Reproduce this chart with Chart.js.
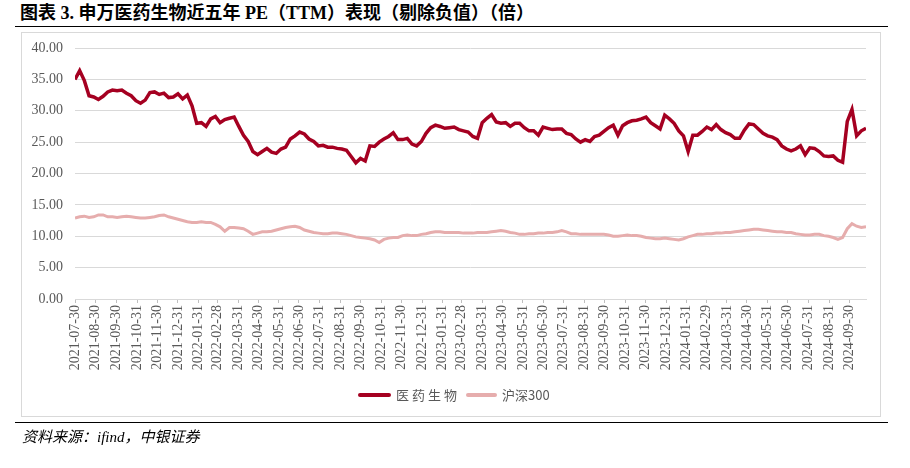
<!DOCTYPE html>
<html>
<head>
<meta charset="utf-8">
<script src="https://cdn.jsdelivr.net/npm/chart.js@4/dist/chart.umd.min.js"></script>
<style>
  html, body { margin: 0; padding: 0; background: #fff; }
  body { width: 910px; height: 468px; position: relative; overflow: hidden;
         font-family: "Liberation Serif", "Noto Sans CJK SC", serif; }
  #title { position: absolute; left: 20px; top: 2px; font-size: 18px; font-weight: bold;
           color: #000; white-space: nowrap; line-height: 22px; }
  .rule { position: absolute; left: 15px; width: 873px; height: 0; border-top: 1.5px solid #000; }
  #frame { position: absolute; left: 21px; top: 32px; width: 860px; height: 385px;
           border: 1px solid #d9d9d9; box-sizing: border-box; }
  #chart { position: absolute; left: 0; top: 0; }
  .lg-line { position: absolute; height: 4px; top: 393px; border-radius: 2px; }
  .lg-text { position: absolute; top: 386px; font-size: 13px; line-height: 18px; color: #595959;
             font-family: "Noto Sans CJK SC", sans-serif; letter-spacing: 3px; white-space: nowrap; }
  #source { position: absolute; left: 22px; top: 427px; font-size: 15px; font-style: italic;
            color: #000; white-space: nowrap; line-height: 20px; }
</style>
</head>
<body>
<div id="title">图表 3. 申万医药生物近五年 PE（TTM）表现（剔除负值）（倍）</div>
<div class="rule" style="top:26px"></div>
<div id="frame"></div>
<canvas id="chart" width="910" height="468"></canvas>
<div class="lg-line" style="left:358px;width:33px;background:#a50021"></div>
<div class="lg-text" style="left:396px">医药生物</div>
<div class="lg-line" style="left:466px;width:31px;background:#e6adad"></div>
<div class="lg-text" style="left:502px;letter-spacing:0">沪深300</div>
<div class="rule" style="top:422px"></div>
<div id="source">资料来源：ifind，中银证券</div>

<script>
// 周度数据，起点 2021-07-30
const startDate = '2021-07-30';

const yiyao = [
  35.0, 36.4, 34.8, 32.4, 32.2, 31.8, 32.3, 33.0, 33.3, 33.2,
  33.3, 32.8, 32.4, 31.6, 31.2, 31.7, 32.9, 33.0, 32.6, 32.8,
  32.1, 32.2, 32.7, 31.9, 32.5, 30.8, 28.0, 28.1, 27.5, 28.7,
  29.1, 28.1, 28.6, 28.8, 29.0, 27.5, 26.1, 25.1, 23.5, 23.0,
  23.5, 24.0, 23.4, 23.2, 23.9, 24.2, 25.5, 26.0, 26.6, 26.3,
  25.5, 25.1, 24.4, 24.5, 24.2, 24.2, 24.0, 23.9, 23.7, 22.7,
  21.7, 22.4, 22.0, 24.4, 24.3, 25.0, 25.5, 25.9, 26.5, 25.4,
  25.4, 25.6, 24.7, 24.4, 25.1, 26.4, 27.3, 27.7, 27.5, 27.2,
  27.3, 27.4, 27.0, 26.8, 26.6, 25.9, 25.6, 28.1, 28.8, 29.4,
  28.2, 28.0, 28.1, 27.5, 28.0, 28.0, 27.3, 26.8, 26.8, 26.1,
  27.4, 27.2, 27.0, 27.1, 27.1, 26.4, 26.2, 25.5, 25.0, 25.4,
  25.1, 25.9, 26.1, 26.7, 27.3, 27.7, 26.1, 27.6, 28.1, 28.4,
  28.5, 28.7, 29.0, 28.1, 27.6, 27.1, 29.3, 28.7, 28.0, 26.8,
  26.0, 23.5, 26.1, 26.1, 26.7, 27.4, 27.0, 27.8, 27.0, 26.5,
  26.2, 25.6, 25.6, 26.9, 27.9, 27.8, 27.1, 26.4, 26.0, 25.8,
  25.4, 24.4, 23.9, 23.6, 23.9, 24.4, 23.0, 24.1, 24.0, 23.5,
  22.8, 22.7, 22.8, 22.1, 21.8, 28.3, 30.2, 26.0, 26.8, 27.2
];

const hs300 = [
  12.9, 13.1, 13.2, 13.0, 13.1, 13.4, 13.4, 13.1, 13.1, 13.0,
  13.1, 13.2, 13.1, 13.0, 12.9, 12.9, 13.0, 13.1, 13.3, 13.4,
  13.1, 12.9, 12.7, 12.5, 12.3, 12.2, 12.2, 12.3, 12.2, 12.2,
  11.9, 11.5, 10.8, 11.4, 11.4, 11.3, 11.2, 10.8, 10.3, 10.5,
  10.7, 10.7, 10.8, 11.0, 11.2, 11.4, 11.5, 11.6, 11.4, 11.0,
  10.8, 10.6, 10.5, 10.4, 10.4, 10.5, 10.5, 10.4, 10.3, 10.1,
  9.9, 9.8, 9.7, 9.6, 9.4, 9.0, 9.5, 9.7, 9.8, 9.8,
  10.1, 10.2, 10.1, 10.1, 10.3, 10.4, 10.6, 10.7, 10.7, 10.6,
  10.6, 10.6, 10.6, 10.5, 10.5, 10.5, 10.6, 10.6, 10.6, 10.7,
  10.8, 10.9, 10.8, 10.6, 10.5, 10.3, 10.3, 10.4, 10.4, 10.5,
  10.5, 10.6, 10.6, 10.7, 10.9, 10.7, 10.4, 10.4, 10.3, 10.3,
  10.3, 10.3, 10.3, 10.3, 10.2, 10.0, 10.0, 10.1, 10.2, 10.1,
  10.1, 10.0, 9.8, 9.7, 9.6, 9.6, 9.7, 9.6, 9.5, 9.4,
  9.6, 9.9, 10.1, 10.3, 10.3, 10.4, 10.4, 10.5, 10.5, 10.6,
  10.6, 10.7, 10.8, 10.9, 11.0, 11.1, 11.1, 11.0, 10.9, 10.8,
  10.7, 10.7, 10.6, 10.6, 10.4, 10.3, 10.2, 10.2, 10.3, 10.3,
  10.1, 10.0, 9.8, 9.5, 9.8, 11.2, 12.0, 11.6, 11.4, 11.5
];

// 横轴刻度（月末）
const tickLabels = [
  '2021-07-30', '2021-08-30', '2021-09-30', '2021-10-31', '2021-11-30', '2021-12-31',
  '2022-01-31', '2022-02-28', '2022-03-31', '2022-04-30', '2022-05-31', '2022-06-30',
  '2022-07-31', '2022-08-31', '2022-09-30', '2022-10-31', '2022-11-30', '2022-12-31',
  '2023-01-31', '2023-02-28', '2023-03-31', '2023-04-30', '2023-05-31', '2023-06-30',
  '2023-07-31', '2023-08-31', '2023-09-30', '2023-10-31', '2023-11-30', '2023-12-31',
  '2024-01-31', '2024-02-29', '2024-03-31', '2024-04-30', '2024-05-31', '2024-06-30',
  '2024-07-31', '2024-08-31', '2024-09-30'
];

const toUTC = s => Date.UTC(+s.slice(0, 4), +s.slice(5, 7) - 1, +s.slice(8, 10));
const dayOf = s => (toUTC(s) - toUTC(startDate)) / 86400000;

// 每周一个日期
const dates = [];
for (let i = 0; i < yiyao.length; i++) {
  dates.push(new Date(toUTC(startDate) + i * 7 * 86400000).toISOString().slice(0, 10));
}

const tickDays = tickLabels.map(dayOf);
const lastDay = dayOf(dates[dates.length - 1]);

const axisFont = { family: 'Liberation Serif', size: 14 };
const grey = '#595959';

new Chart(document.getElementById('chart'), {
  type: 'line',
  data: {
    datasets: [{
      label: '医药生物',
      data: dates.map((d, i) => ({ x: dayOf(d), y: yiyao[i] })),
      borderColor: '#a50021',
      borderWidth: 3.5,
      pointRadius: 0,
      tension: 0
    }, {
      label: '沪深300',
      data: dates.map((d, i) => ({ x: dayOf(d), y: hs300[i] })),
      borderColor: '#e6adad',
      borderWidth: 3,
      pointRadius: 0,
      tension: 0
    }]
  },
  options: {
    responsive: false,
    animation: false,
    layout: { padding: { left: 20, right: 44, top: 48, bottom: 89 } },
    plugins: { legend: { display: false }, tooltip: { enabled: false } },
    scales: {
      x: {
        type: 'linear',
        min: 0,
        max: lastDay,
        afterBuildTicks: s => { s.ticks = tickDays.map(v => ({ value: v })); },
        afterFit: s => { s.height = 80; },
        ticks: {
          autoSkip: false,
          minRotation: 90,
          maxRotation: 90,
          padding: 2,
          font: axisFont,
          color: grey,
          callback: (v, i) => tickLabels[i]
        },
        grid: { drawOnChartArea: false, drawTicks: true, tickLength: 4, color: '#bfbfbf' },
        border: { display: true, color: '#d9d9d9' }
      },
      y: {
        min: 0,
        max: 40,
        afterFit: s => { s.width = 55; },
        ticks: {
          stepSize: 5,
          padding: 12,
          font: axisFont,
          color: grey,
          callback: v => v.toFixed(2)
        },
        grid: { color: '#d9d9d9', drawTicks: false },
        border: { display: false }
      }
    }
  }
});
</script>
</body>
</html>
